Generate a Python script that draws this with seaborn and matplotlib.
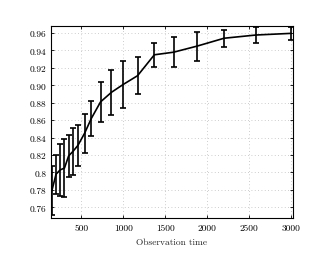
import numpy as np
import pandas as pd
import seaborn as sns
import matplotlib
matplotlib.use("Agg")
import matplotlib.pyplot as plt

# --- data ---
obs_time = [150, 200, 250, 300, 350, 400, 460, 540, 620, 730, 860, 1000,
            1170, 1370, 1600, 1880, 2200, 2580, 3000]
accuracy = [0.779, 0.798, 0.803, 0.805, 0.819, 0.824, 0.831, 0.845, 0.862,
            0.881, 0.892, 0.901, 0.911, 0.935, 0.938, 0.945, 0.954, 0.9577,
            0.9596]
err = [0.028, 0.0225, 0.0297, 0.033, 0.0237, 0.027, 0.0236, 0.0225, 0.0205,
       0.023, 0.026, 0.027, 0.021, 0.014, 0.017, 0.0167, 0.010, 0.0095,
       0.0075]

yticks = [0.76, 0.78, 0.80, 0.82, 0.84, 0.86, 0.88, 0.90, 0.92, 0.94, 0.96]
ytick_labels = ["0.76", "0.78", "0.8", "0.82", "0.84", "0.86", "0.88",
                "0.90", "0.92", "0.94", "0.96"]
xticks = [500, 1000, 1500, 2000, 2500, 3000]

df = pd.DataFrame({"t": obs_time, "acc": accuracy, "err": err})

sns.set_style("ticks")
plt.rcParams["font.family"] = ["cmr10", "DejaVu Serif"]
plt.rcParams["axes.formatter.use_mathtext"] = True

fig = plt.figure(figsize=(3.32, 2.55), dpi=100)
ax = fig.add_axes([0.1536, 0.141, 0.7289, 0.753])

sns.lineplot(data=df, x="t", y="acc", color="black", linewidth=1.2, ax=ax)
ax.errorbar(df["t"], df["acc"], yerr=df["err"], fmt="none", ecolor="black",
            elinewidth=1.2, capsize=2.0, capthick=1.2)

ax.set_xlim(140, 3020)
ax.set_ylim(0.7477, 0.968)
ax.set_xticks(xticks)
ax.set_xticklabels([str(v) for v in xticks])
ax.set_yticks(yticks)
ax.set_yticklabels(ytick_labels)

ax.grid(True, color="#bdbdbd", linestyle=(0, (1, 3)), linewidth=0.6)
ax.tick_params(direction="in", top=True, right=True, length=2.5, width=0.6,
               labelsize=6.8, pad=3.5, colors="black")
ax.tick_params(axis="x", pad=4)
for s in ax.spines.values():
    s.set_linewidth(0.8)
    s.set_color("black")

ax.set_xlabel("Observation time", fontsize=6.8, labelpad=4)
ax.set_ylabel("")

fig.savefig("out.png", dpi=100)
